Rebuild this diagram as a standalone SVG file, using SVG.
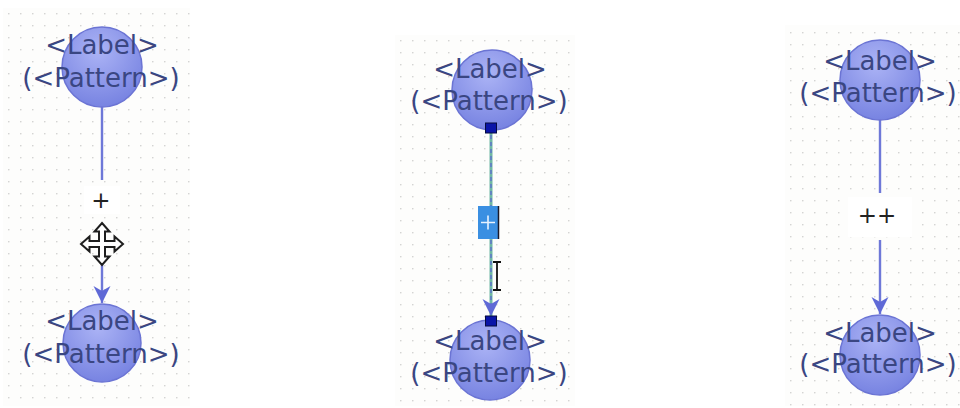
<svg xmlns="http://www.w3.org/2000/svg" width="960" height="408" viewBox="0 0 960 408">
  <style>
    .sheet { fill: #fdfdfc; }
    .dots1 { fill: url(#grid1); }
    .dots2 { fill: url(#grid2); }
    .dots3 { fill: url(#grid3); }
    .state circle { fill: url(#ball); stroke: #6b74d4; stroke-width: 1.5; }
    .state text { font-family: "DejaVu Sans", sans-serif; font-size: 26px; fill: #3a4682; text-anchor: middle; }
    .edge { stroke: #6e78d8; stroke-width: 2.4; fill: none; }
    .lbl { font-family: "DejaVu Sans", sans-serif; font-size: 23px; fill: #222; text-anchor: middle; }
    .handle { fill: #0a14a8; stroke: #050a40; stroke-width: 1; }
  </style>
  <defs>
    <radialGradient id="ball" cx="0.45" cy="0.3" r="0.75">
      <stop offset="0" stop-color="#abb3f5"/>
      <stop offset="1" stop-color="#7480e0"/>
    </radialGradient>
    <pattern id="grid1" x="8" y="13" width="12" height="12" patternUnits="userSpaceOnUse">
      <circle cx="0.8" cy="0.8" r="0.8" fill="#cacaca"/>
    </pattern>
    <pattern id="grid2" x="400" y="40" width="12" height="12" patternUnits="userSpaceOnUse">
      <circle cx="0.8" cy="0.8" r="0.8" fill="#cacaca"/>
    </pattern>
    <pattern id="grid3" x="790" y="32" width="12" height="12" patternUnits="userSpaceOnUse">
      <circle cx="0.8" cy="0.8" r="0.8" fill="#cacaca"/>
    </pattern>
    <marker id="head" viewBox="-17 -9 18 18" markerWidth="18" markerHeight="18" refX="0" refY="0" orient="auto" markerUnits="userSpaceOnUse">
      <path d="M0,0 L-17,-8.5 L-12,0 L-17,8.5 Z" fill="#5f69d6"/>
    </marker>
  </defs>

  <!-- canvas sheets with dotted grid -->
  <g id="sheets">
    <rect class="sheet" x="3" y="8" width="187" height="398"/>
    <rect class="dots1" x="3" y="8" width="187" height="398"/>
    <rect class="sheet" x="395" y="35" width="180" height="371"/>
    <rect class="dots2" x="395" y="35" width="180" height="371"/>
    <rect class="sheet" x="785" y="25" width="175" height="381"/>
    <rect class="dots3" x="785" y="25" width="175" height="381"/>
  </g>

  <!-- transitions -->
  <g id="connectors">
    <!-- left: label "+" being dragged -->
    <line class="edge" x1="102" y1="107" x2="102" y2="180"/>
    <line class="edge" x1="102" y1="262" x2="102" y2="303" marker-end="url(#head)"/>
    <rect x="84" y="186" width="36" height="28" fill="#ffffff"/>
    <text class="lbl" x="101" y="208">+</text>

    <!-- middle: selected transition with label in edit mode -->
    <line x1="491" y1="128" x2="491" y2="316" stroke="#6fb7a4" stroke-width="3"/>
    <line x1="491" y1="128" x2="491" y2="316" stroke="#5d76c8" stroke-width="1.5" stroke-dasharray="4 3" marker-end="url(#head)"/>
    <rect x="478" y="206" width="20" height="33" fill="#3a8fe2"/>
    <path d="M481,222.5 H495 M488,215.5 V229.5" stroke="#e8f2ff" stroke-width="1.6"/>
    <line x1="498.5" y1="206" x2="498.5" y2="239" stroke="#1a1a2a" stroke-width="1.5"/>

    <!-- right: label "++" -->
    <line class="edge" x1="880" y1="120" x2="880" y2="193"/>
    <line class="edge" x1="880" y1="240" x2="880" y2="314" marker-end="url(#head)"/>
    <rect x="848" y="197" width="64" height="40" fill="#ffffff"/>
    <text class="lbl" x="877" y="223">++</text>
  </g>

  <!-- states -->
  <g id="left-top" class="state">
    <circle cx="102" cy="67" r="40"/>
    <text x="102" y="54">&lt;Label&gt;</text>
    <text x="101" y="87">(&lt;Pattern&gt;)</text>
  </g>
  <g id="left-bottom" class="state">
    <circle cx="102" cy="343" r="39"/>
    <text x="102" y="330">&lt;Label&gt;</text>
    <text x="101" y="363">(&lt;Pattern&gt;)</text>
  </g>
  <g id="mid-top" class="state">
    <circle cx="492" cy="90" r="40"/>
    <text x="490" y="78">&lt;Label&gt;</text>
    <text x="489" y="110">(&lt;Pattern&gt;)</text>
  </g>
  <g id="mid-bottom" class="state">
    <circle cx="490" cy="360" r="40"/>
    <text x="490" y="350">&lt;Label&gt;</text>
    <text x="489" y="382">(&lt;Pattern&gt;)</text>
  </g>
  <g id="right-top" class="state">
    <circle cx="880" cy="80" r="40"/>
    <text x="880" y="70">&lt;Label&gt;</text>
    <text x="878" y="102">(&lt;Pattern&gt;)</text>
  </g>
  <g id="right-bottom" class="state">
    <circle cx="880" cy="355" r="40"/>
    <text x="880" y="342">&lt;Label&gt;</text>
    <text x="878" y="373">(&lt;Pattern&gt;)</text>
  </g>

  <!-- selection handles at the ends of the selected transition -->
  <g id="handles">
    <rect class="handle" x="485.5" y="123" width="11" height="10"/>
    <rect class="handle" x="485.5" y="316" width="11" height="10"/>
  </g>

  <!-- mouse pointers -->
  <g id="move-cursor" transform="translate(102 244)">
    <path d="M0,-21 L7.5,-12.5 L3,-12.5 L3,-3 L12.5,-3 L12.5,-7.5 L21,0 L12.5,7.5 L12.5,3 L3,3 L3,12.5 L7.5,12.5 L0,21 L-7.5,12.5 L-3,12.5 L-3,3 L-12.5,3 L-12.5,7.5 L-21,0 L-12.5,-7.5 L-12.5,-3 L-3,-3 L-3,-12.5 L-7.5,-12.5 Z" fill="#ffffff" stroke="#1e1e1e" stroke-width="2" stroke-linejoin="miter"/>
  </g>
  <g id="ibeam-cursor">
    <path d="M493,262 H501 M497,262 V290 M493,290 H501" stroke="#111" stroke-width="1.8" fill="none"/>
  </g>
</svg>
